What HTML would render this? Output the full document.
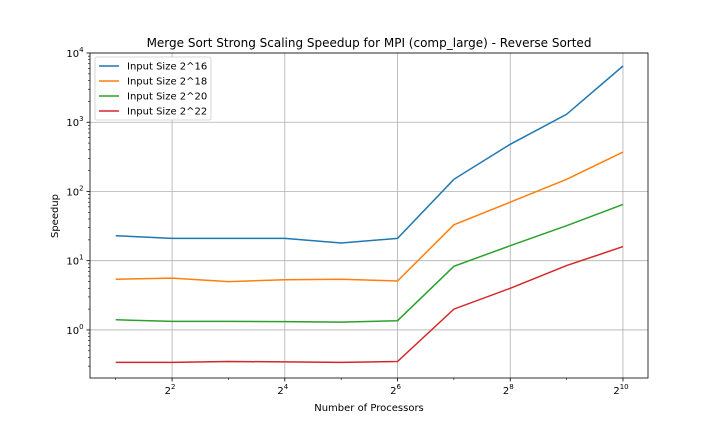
<!DOCTYPE html>
<html><head><meta charset="utf-8"><style>
body{margin:0;background:#fff;font-family:"Liberation Sans","DejaVu Sans",sans-serif;}
svg text{font-family:"DejaVu Sans","Liberation Sans",sans-serif;}
</style></head><body>
<svg id="chart" width="720" height="432" xmlns="http://www.w3.org/2000/svg"></svg>
<script>
const processorExponents=[1,2,3,4,5,6,7,8,9,10];
const seriesNames=["Input Size 2^16","Input Size 2^18","Input Size 2^20","Input Size 2^22"];
const speedup16=[23,21,21,21,18,21,150,480,1300,6500];
const speedup18=[5.4,5.6,5.0,5.3,5.4,5.1,33,70,150,370];
const speedup20=[1.4,1.33,1.33,1.32,1.3,1.36,8.3,16.5,32,65];
const speedup22=[0.34,0.34,0.35,0.345,0.34,0.35,2.0,4.0,8.5,16];
const xTickExps=[2,4,6,8,10];
const yTickExps=[0,1,2,3,4];
const colors=["#1f77b4","#ff7f0e","#2ca02c","#d62728"];
const allSeries=[speedup16,speedup18,speedup20,speedup22];

const L=90,R=648,T=53,B=378;
const xMin=0.544,xMax=10.444,yMin=-0.694,yMax=4.0;
const xs=e=>L+(e-xMin)/(xMax-xMin)*(R-L);
const ys=v=>B-(Math.log10(v)-yMin)/(yMax-yMin)*(B-T);
const NS="http://www.w3.org/2000/svg";
const svg=document.getElementById('chart');
function mk(tag,attrs,parent){const el=document.createElementNS(NS,tag);for(const k in attrs)el.setAttribute(k,attrs[k]);(parent||svg).appendChild(el);return el;}

// grid
xTickExps.forEach(e=>{const g=mk('line',{x1:xs(e),x2:xs(e),y1:T,y2:B,stroke:'#b0b0b0','stroke-width':0.8});

});
yTickExps.forEach(e=>{const g=mk('line',{x1:L,x2:R,y1:ys(Math.pow(10,e)),y2:ys(Math.pow(10,e)),stroke:'#b0b0b0','stroke-width':0.8});

});

// series
allSeries.forEach((s,i)=>{
 const d=s.map((v,j)=>(j?'L':'M')+xs(processorExponents[j]).toFixed(1)+','+ys(v).toFixed(1)).join(' ');
 const p=mk('path',{d:d,fill:'none',stroke:colors[i],'stroke-width':1.5});
 
 
});

// axes frame
const fr=mk('rect',{x:L,y:T,width:R-L,height:B-T,fill:'none',stroke:'#000','stroke-width':0.8});



// x ticks
xTickExps.forEach(e=>{
 mk('line',{x1:xs(e),x2:xs(e),y1:B,y2:B+3.5,stroke:'#000','stroke-width':0.8});
 const t=mk('text',{x:xs(e)-2,y:B+16,'font-size':10,'text-anchor':'middle'});
 
 
 t.innerHTML='2<tspan dy="-5" font-size="7">'+e+'</tspan>';
});
// x minor ticks
processorExponents.forEach(e=>{if(!xTickExps.includes(e))mk('line',{x1:xs(e),x2:xs(e),y1:B,y2:B+2,stroke:'#000','stroke-width':0.6});});
// y ticks
yTickExps.forEach(e=>{
 const y=ys(Math.pow(10,e));
 mk('line',{x1:L-3.5,x2:L,y1:y,y2:y,stroke:'#000','stroke-width':0.8});
 const t=mk('text',{x:L-15,y:y+4,'font-size':10,'text-anchor':'middle'});
 
 
 t.innerHTML='10<tspan dy="-5" font-size="7">'+e+'</tspan>';
});
for(let e=-1;e<4;e++)for(let m=2;m<10;m++){const v=m*Math.pow(10,e);const y=ys(v);if(y<B&&y>T)mk('line',{x1:L-2,x2:L,y1:y,y2:y,stroke:'#000','stroke-width':0.6});}

// labels
let t=mk('text',{x:369,y:47,'font-size':12,'text-anchor':'middle'});t.textContent='Merge Sort Strong Scaling Speedup for MPI (comp_large) - Reverse Sorted';


t=mk('text',{x:369,y:411,'font-size':10,'text-anchor':'middle'});t.textContent='Number of Processors';


t=mk('text',{x:58,y:216,'font-size':10,'text-anchor':'middle',transform:'rotate(-90 58 216)'});t.textContent='Speedup';



// legend
const lg=mk('rect',{x:95,y:57,width:116,height:63,fill:'#fff',stroke:'#ccc','stroke-width':0.8,rx:2});


seriesNames.forEach((n,i)=>{
 const y=66+i*15;
 mk('line',{x1:99,x2:119,y1:y,y2:y,stroke:colors[i],'stroke-width':1.5});
 const tx=mk('text',{x:127,y:y+3.5,'font-size':10});tx.textContent=n;
 
 
});
</script>
</body></html>
